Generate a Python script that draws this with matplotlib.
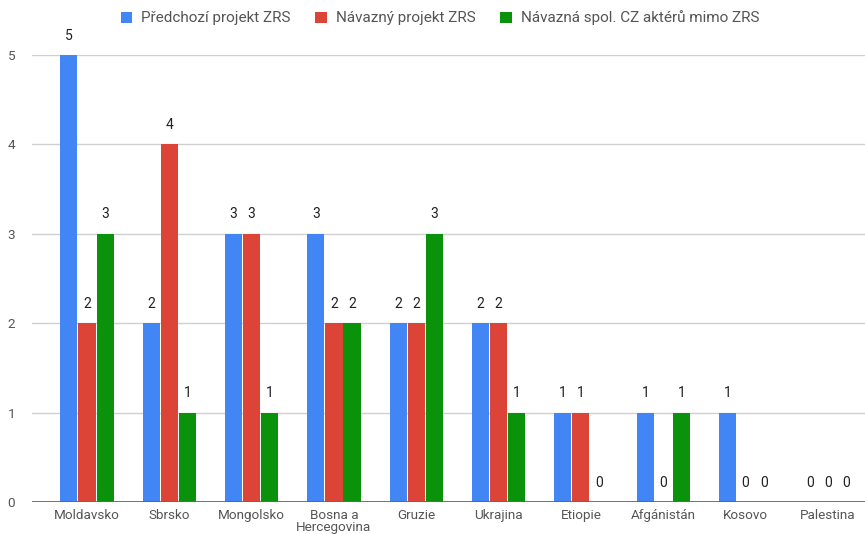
import numpy as np
import matplotlib
matplotlib.use("Agg")
import matplotlib.pyplot as plt

plt.rcParams["font.family"] = ["Roboto", "DejaVu Sans"]

# data
countries = ["Moldavsko", "Sbrsko", "Mongolsko", "Bosna a\nHercegovina", "Gruzie",
             "Ukrajina", "Etiopie", "Afgánistán", "Kosovo", "Palestina"]
series_names = ["Předchozí projekt ZRS", "Návazný projekt ZRS",
                "Návazná spol. CZ aktérů mimo ZRS"]
predchozi = [5, 2, 3, 3, 2, 2, 1, 1, 1, 0]
navazny = [2, 4, 3, 2, 2, 2, 1, 0, 0, 0]
navazna_spol = [3, 1, 1, 2, 3, 1, 0, 1, 0, 0]
colors = ["#4285F4", "#DB4437", "#0B920B"]

fig = plt.figure(figsize=(8.65, 5.34), dpi=100)
ax = fig.add_axes([32 / 865, 1 - 502 / 534, 1 - 32 / 865, 447 / 534])

x = np.arange(len(countries))
width = 0.207
step = 0.219
for i, (vals, col, name) in enumerate(zip([predchozi, navazny, navazna_spol], colors, series_names)):
    pos = x + (i - 1) * step
    ax.bar(pos, vals, width=width, color=col, label=name, zorder=3)
    for px, v in zip(pos, vals):
        ax.annotate(str(v), (px, v), xytext=(0, 14), textcoords="offset points",
                    ha="center", va="center", fontsize=10, color="#222222",
                    annotation_clip=False)

ax.set_xlim(-0.668, 9.45)
ax.set_ylim(0, 5)
ax.set_yticks(range(6))
ax.grid(axis="y", color="#D0D0D0", linewidth=1, zorder=0)
ax.axhline(0, color="#666666", linewidth=2, zorder=4)
for s in ax.spines.values():
    s.set_visible(False)
ax.tick_params(axis="both", length=0, labelsize=9.7, labelcolor="#555555")
ax.tick_params(axis="y", pad=12)
ax.tick_params(axis="x", pad=5)
ax.set_xticks(x)
ax.set_xticklabels(countries, linespacing=0.95)

leg = fig.legend(loc="center", bbox_to_anchor=(440 / 865, 1 - 18 / 534), ncol=3,
                 frameon=False, fontsize=11, handlelength=0.75, handleheight=0.75,
                 handletextpad=0.6, columnspacing=1.6)
for t in leg.get_texts():
    t.set_color("#555555")

fig.savefig("out.png", dpi=100)
